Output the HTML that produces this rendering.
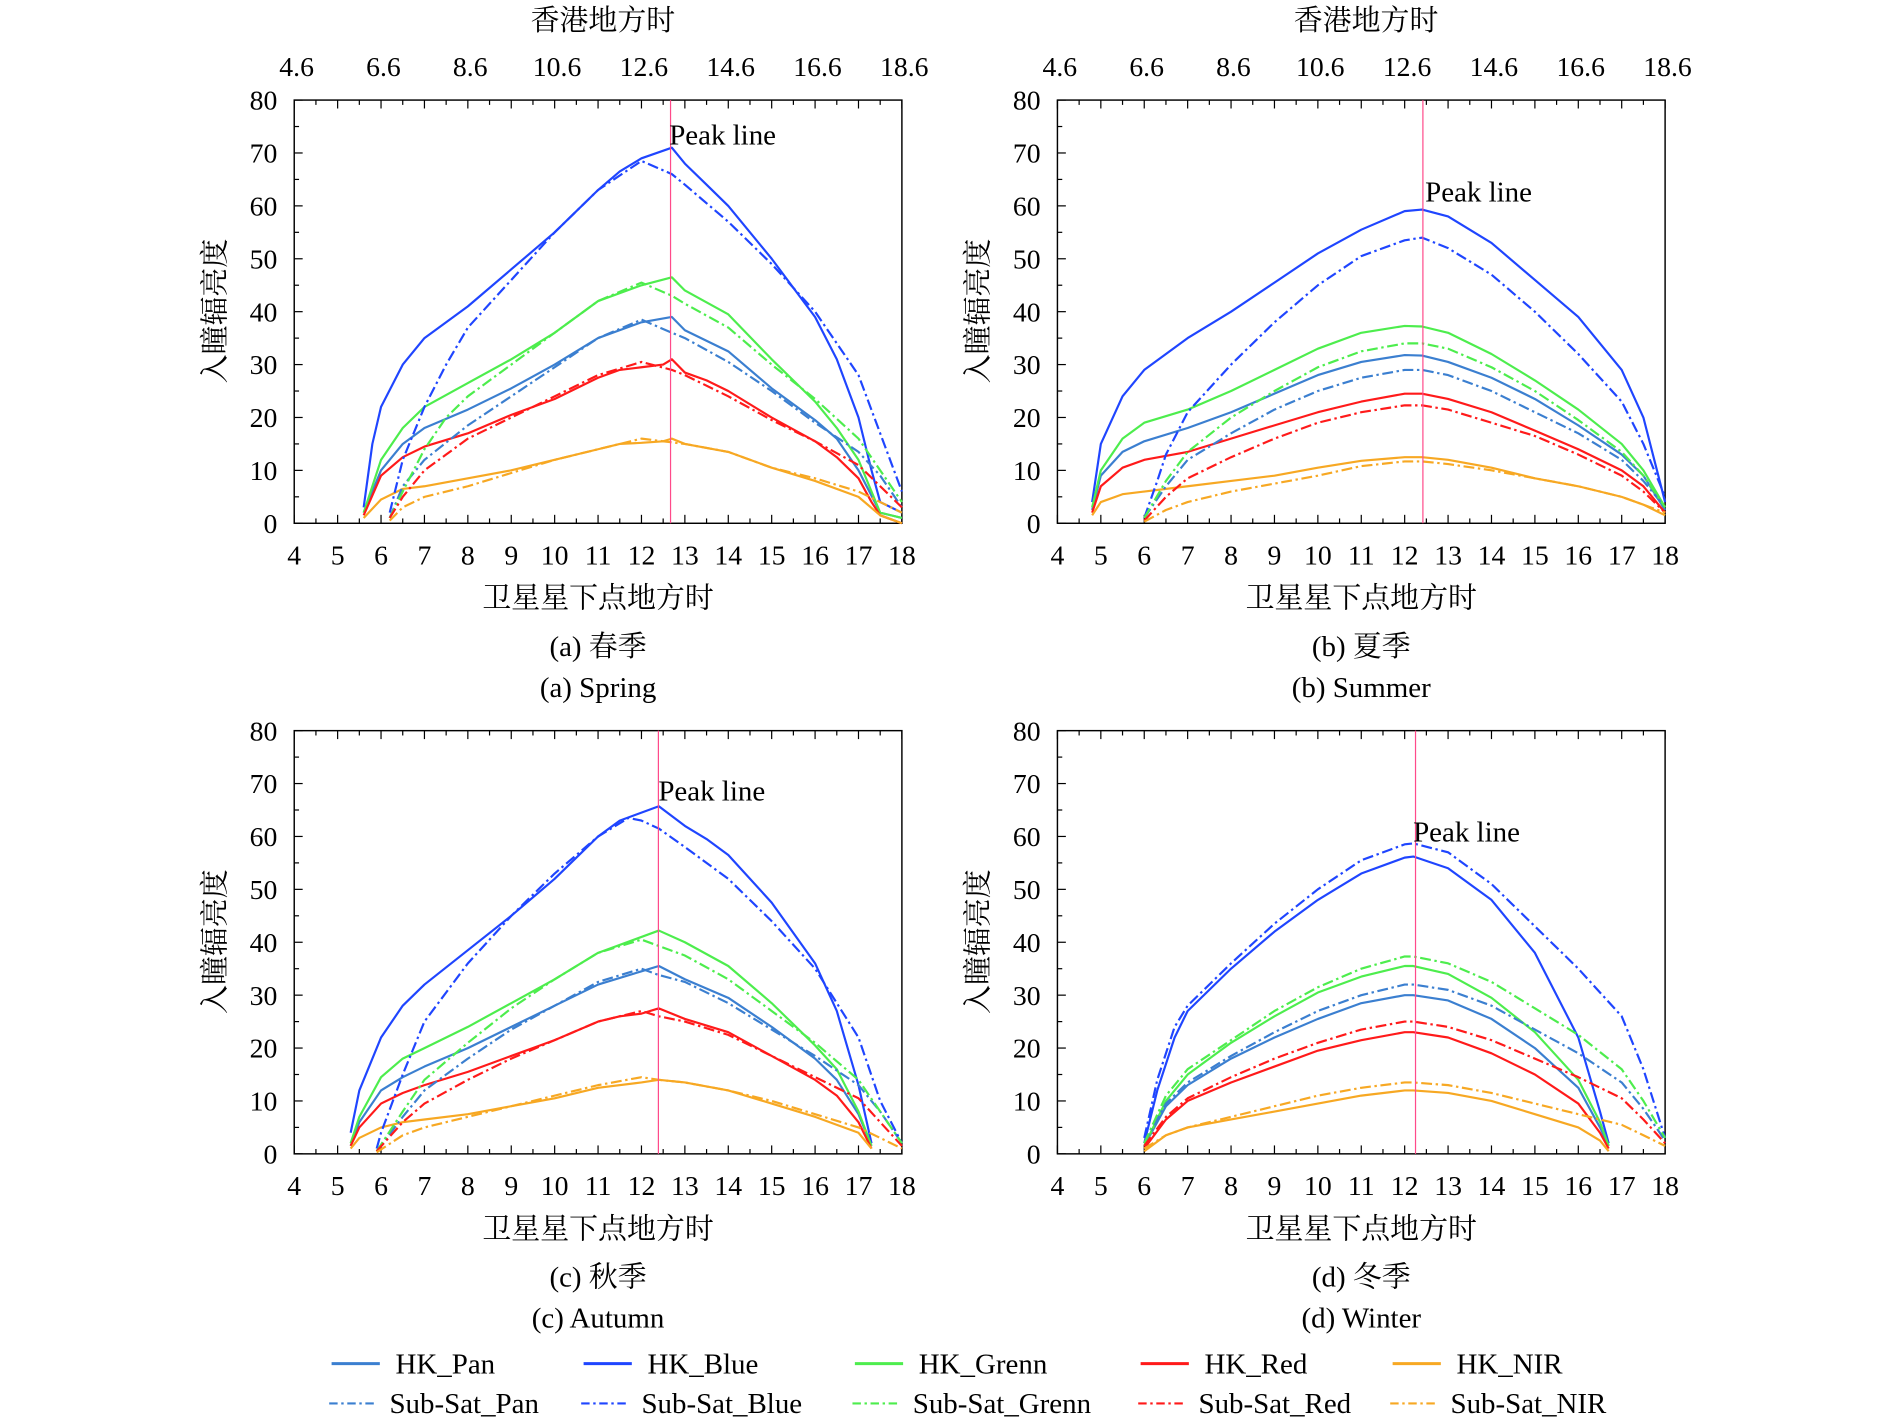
<!DOCTYPE html>
<html><head><meta charset="utf-8">
<style>
html,body{margin:0;padding:0;background:#fff;}
svg{display:block;}
text{font-family:"Liberation Serif","Noto Serif CJK SC",serif;fill:#000;}
</style></head>
<body>
<svg id="chart" width="1890" height="1422" viewBox="0 0 1567.5 1179.4" xmlns="http://www.w3.org/2000/svg"></svg>
<script>
// ===== data =====
const seriesNames = ["HK_Pan","HK_Blue","HK_Grenn","HK_Red","HK_NIR","Sub-Sat_Pan","Sub-Sat_Blue","Sub-Sat_Grenn","Sub-Sat_Red","Sub-Sat_NIR"];
const yTicks = [0,10,20,30,40,50,60,70,80];
const xTicks = [4,5,6,7,8,9,10,11,12,13,14,15,16,17,18];
const topTicks = ["4.6","6.6","8.6","10.6","12.6","14.6","16.6","18.6"];
const peakHours = [12.67, 12.42, 12.39, 12.25];

const spring_HK_Pan=[[5.6,2],[6,10],[6.5,15],[7,18],[8,21.5],[9,25.5],[10,30],[11,35],[12,38],[12.7,39],[13,36.5],[14,32.5],[15,25.5],[16,19.5],[16.5,16],[17,10],[17.5,2],[18,1]];
const spring_HK_Blue=[[5.6,3],[5.8,15],[6,22],[6.5,30],[7,35],[8,41],[9,48],[10,55],[11,63],[11.5,66.5],[12,69],[12.7,71],[13,68],[13.5,64],[14,60],[15,50],[16,39],[16.5,31],[17,20],[17.3,10],[17.5,4],[18,2]];
const spring_HK_Grenn=[[5.6,2],[6,12],[6.5,18],[7,22],[8,26.5],[9,31],[10,36],[11,42],[12,45],[12.7,46.5],[13,44],[14,39.5],[15,31],[16,23],[16.5,18],[17,12],[17.5,2],[18,1]];
const spring_HK_Red=[[5.6,1.5],[6,9],[6.5,12.5],[7,14.5],[8,17],[9,20.5],[10,23.5],[11,27.5],[11.5,29],[12,29.5],[12.5,30],[12.7,31],[13,28.5],[13.5,27],[14,25],[15,20],[16,15.5],[16.5,12.5],[17,8.5],[17.3,4],[17.5,1.5],[18,0]];
const spring_HK_NIR=[[5.6,1],[6,4.5],[6.5,6.5],[7,7],[8,8.5],[9,10],[10,12],[11,14],[11.5,15],[12,15.2],[12.5,15.5],[12.7,16],[13,15],[14,13.5],[15,10.5],[16,8],[17,5],[17.5,1.5],[18,0]];
const spring_Sub_Pan=[[6.2,1],[6.5,7],[7,12],[8,18.5],[9,24],[10,29.5],[11,35],[12,38.5],[12.7,36],[13,35],[14,30.5],[15,25],[16,19],[17,13.5],[17.5,9],[18,3]];
const spring_Sub_Blue=[[6.2,2],[6.5,12],[7,22],[7.5,30],[8,37],[9,46],[10,55],[11,63],[12,68.5],[12.7,66],[13,64],[14,57],[15,49],[16,40],[17,28],[17.5,17],[18,6]];
const spring_Sub_Grenn=[[6.2,1],[6.5,6],[7,14],[7.5,20],[8,24],[9,30],[10,36],[11,42],[12,45.5],[12.7,43],[13,41.5],[14,37],[15,30],[16,23.5],[17,16],[17.5,10],[18,4]];
const spring_Sub_Red=[[6.2,1],[6.5,5],[7,10],[7.5,13],[8,16],[9,20],[10,24],[11,28],[12,30.5],[12.7,29],[13,28],[14,24],[15,19.5],[16,15.5],[17,11],[17.5,7],[18,3]];
const spring_Sub_NIR=[[6.2,0.5],[6.5,3],[7,5],[8,7],[9,9.5],[10,12],[11,14],[12,16],[12.7,15.3],[13,15],[14,13.5],[15,10.5],[16,8.5],[17,6],[17.5,4],[18,2]];

const summer_HK_Pan=[[4.8,2.5],[5,9],[5.5,13.5],[6,15.5],[7,18],[8,21],[9,24.5],[10,28],[11,30.5],[12,31.8],[12.4,31.7],[13,30.5],[14,27.5],[15,23.5],[16,18.5],[17,13],[17.5,9],[18,2.5]];
const summer_HK_Blue=[[4.8,4],[5,15],[5.5,24],[6,29],[6.5,32],[7,35],[8,40],[9,45.5],[10,51],[11,55.5],[12,59],[12.4,59.3],[13,58],[14,53],[15,46],[16,39],[17,29],[17.5,20],[18,4]];
const summer_HK_Grenn=[[4.8,3],[5,10],[5.5,16],[6,19],[7,21.5],[8,25],[9,29],[10,33],[11,36],[12,37.3],[12.4,37.2],[13,36],[14,32],[15,27],[16,21.5],[17,15],[17.5,10],[18,3]];
const summer_HK_Red=[[4.8,2],[5,7],[5.5,10.5],[6,12],[7,13.5],[8,16],[9,18.5],[10,21],[11,23],[12,24.5],[12.4,24.5],[13,23.5],[14,21],[15,17.5],[16,14],[17,10],[17.5,7],[18,2]];
const summer_HK_NIR=[[4.8,1.5],[5,4],[5.5,5.5],[6,6],[7,7],[8,8],[9,9],[10,10.5],[11,11.8],[12,12.5],[12.4,12.5],[13,12],[14,10.5],[15,8.5],[16,7],[17,5],[17.5,3.5],[18,1.5]];
const summer_Sub_Pan=[[6,1],[6.5,7],[7,12],[8,17],[9,21.5],[10,25],[11,27.5],[12,29],[12.4,29],[13,28],[14,25],[15,21],[16,17],[17,12],[17.5,8],[18,3]];
const summer_Sub_Blue=[[6,1],[6.3,8],[6.5,13],[7,21],[8,30],[9,38],[10,45],[11,50.5],[12,53.5],[12.4,54],[13,52],[14,47],[15,40],[16,32],[17,23],[17.5,15],[18,5]];
const summer_Sub_Grenn=[[6,1],[6.5,8],[7,13.5],[8,20],[9,25],[10,29.5],[11,32.5],[12,34],[12.4,34],[13,33],[14,29.5],[15,25],[16,19.5],[17,13.5],[17.5,9],[18,3]];
const summer_Sub_Red=[[6,0.5],[6.5,5],[7,8.5],[8,12.5],[9,16],[10,19],[11,21],[12,22.3],[12.4,22.3],[13,21.5],[14,19],[15,16.5],[16,13],[17,9],[17.5,6],[18,2]];
const summer_Sub_NIR=[[6,0.3],[6.5,2.5],[7,4],[8,6],[9,7.5],[10,9],[11,10.8],[12,11.7],[12.4,11.7],[13,11.2],[14,10],[15,8.5],[16,7],[17,5],[17.5,3.5],[18,2]];

const autumn_HK_Pan=[[5.3,1.5],[5.5,6],[6,12],[6.5,14.5],[7,16.5],[8,20],[9,24],[10,28],[11,32],[12,34.5],[12.4,35.5],[13,33],[14,29.5],[15,24],[16,18],[16.5,14],[17,7.5],[17.3,1.5]];
const autumn_HK_Blue=[[5.3,4],[5.5,12],[6,22],[6.5,28],[7,32],[8,38.5],[9,45],[10,52],[11,60],[11.5,63],[12,64.5],[12.4,65.7],[13,62],[13.5,59.5],[14,56.5],[15,47.5],[16,36],[16.5,27],[17,13],[17.3,2]];
const autumn_HK_Grenn=[[5.3,2],[5.5,7],[6,14.5],[6.5,18],[7,20],[8,24],[9,28.5],[10,33],[11,38],[12,41],[12.4,42.2],[13,40],[14,35.5],[15,28.5],[16,20.5],[16.5,16],[17,8],[17.3,1.5]];
const autumn_HK_Red=[[5.3,1.5],[5.5,5],[6,9.5],[6.5,11.5],[7,13],[8,15.5],[9,18.5],[10,21.5],[11,25],[11.5,26],[12,26.5],[12.4,27.5],[13,25.5],[14,23],[15,18.5],[16,14],[16.5,11],[17,6],[17.3,1]];
const autumn_HK_NIR=[[5.3,1],[5.5,3],[6,5],[6.5,6],[7,6.5],[8,7.5],[9,9],[10,10.5],[11,12.5],[12,13.5],[12.4,14],[13,13.5],[14,12],[15,9.5],[16,7],[17,4],[17.3,1]];
const autumn_Sub_Pan=[[5.9,0.5],[6.5,7],[7,12],[8,18],[9,23.5],[10,28],[11,32.5],[12,35],[12.4,33.8],[13,32.5],[14,28.5],[15,23.5],[16,18.5],[17,13],[17.5,8],[18,2]];
const autumn_Sub_Blue=[[5.9,1],[6,4],[6.5,15],[7,25],[8,36],[9,45],[10,53],[11,60],[11.7,63.5],[12,63],[12.4,61.5],[13,58],[14,52],[15,44],[16,35],[17,22],[17.5,10],[18,2]];
const autumn_Sub_Grenn=[[5.9,0.5],[6.5,8],[7,14],[8,21],[9,27.5],[10,33],[11,38],[12,40.5],[12.4,39.3],[13,37.5],[14,33],[15,27],[16,21],[17,14],[17.5,8],[18,2]];
const autumn_Sub_Red=[[5.9,0.5],[6.5,6],[7,9.5],[8,14],[9,18],[10,21.5],[11,25],[12,27],[12.4,26],[13,25],[14,22.5],[15,18.5],[16,14.5],[17,10.5],[17.5,6],[18,1.5]];
const autumn_Sub_NIR=[[5.9,0.3],[6.5,3.5],[7,5],[8,7],[9,9],[10,11],[11,13],[12,14.5],[12.4,14],[13,13.5],[14,12],[15,10],[16,7.5],[17,5],[17.5,3],[18,1]];

const winter_HK_Pan=[[6,1.5],[6.5,9],[7,13],[8,18],[9,22],[10,25.5],[11,28.5],[12,30],[12.2,30],[13,29],[14,25.5],[15,20],[16,12.5],[16.5,5],[16.7,1.5]];
const winter_HK_Blue=[[6,2],[6.3,12],[6.7,22],[7,27],[8,35],[9,42],[10,48],[11,53],[12,56],[12.2,56.2],[13,54],[14,48],[15,38],[16,22],[16.5,8],[16.7,2]];
const winter_HK_Grenn=[[6,1.5],[6.5,10],[7,15],[8,21],[9,26],[10,30.5],[11,33.5],[12,35.5],[12.2,35.5],[13,34],[14,29.5],[15,23],[16,14],[16.5,6],[16.7,1.5]];
const winter_HK_Red=[[6,1],[6.5,6.5],[7,10],[8,13.5],[9,16.5],[10,19.5],[11,21.5],[12,23],[12.2,23],[13,22],[14,19],[15,15],[16,9.5],[16.5,4],[16.7,1]];
const winter_HK_NIR=[[6,0.5],[6.5,3.5],[7,5],[8,6.5],[9,8],[10,9.5],[11,11],[12,12],[12.2,12],[13,11.5],[14,10],[15,7.5],[16,5],[16.5,2.5],[16.7,0.5]];
const winter_Sub_Pan=[[6,2],[6.5,9.5],[7,13.5],[8,18.5],[9,23],[10,27],[11,30],[12,32],[12.2,32],[13,31],[14,28],[15,23.5],[16,19],[17,13.5],[17.5,8.5],[18,2.5]];
const winter_Sub_Blue=[[6,3],[6.3,14],[6.7,24],[7,28],[8,36],[9,43.5],[10,50],[11,55.5],[12,58.5],[12.2,58.7],[13,57],[14,51],[15,43],[16,35],[17,26],[17.5,16],[18,3]];
const winter_Sub_Grenn=[[6,2],[6.5,11],[7,16],[8,21.5],[9,27],[10,31.5],[11,35],[12,37.3],[12.2,37.3],[13,36],[14,32.5],[15,27.5],[16,22.5],[17,16],[17.5,10],[18,3]];
const winter_Sub_Red=[[6,1.5],[6.5,7],[7,10.5],[8,14.5],[9,18],[10,21],[11,23.5],[12,25],[12.2,25],[13,24],[14,21.5],[15,18],[16,14.5],[17,10.5],[17.5,6.5],[18,2]];
const winter_Sub_NIR=[[6,1],[6.5,3.5],[7,5],[8,7],[9,9],[10,11],[11,12.5],[12,13.5],[12.2,13.5],[13,13],[14,11.5],[15,9.5],[16,7.5],[17,5.5],[17.5,3.5],[18,1.5]];

const springSeries=[spring_HK_Pan,spring_HK_Blue,spring_HK_Grenn,spring_HK_Red,spring_HK_NIR,spring_Sub_Pan,spring_Sub_Blue,spring_Sub_Grenn,spring_Sub_Red,spring_Sub_NIR];
const summerSeries=[summer_HK_Pan,summer_HK_Blue,summer_HK_Grenn,summer_HK_Red,summer_HK_NIR,summer_Sub_Pan,summer_Sub_Blue,summer_Sub_Grenn,summer_Sub_Red,summer_Sub_NIR];
const autumnSeries=[autumn_HK_Pan,autumn_HK_Blue,autumn_HK_Grenn,autumn_HK_Red,autumn_HK_NIR,autumn_Sub_Pan,autumn_Sub_Blue,autumn_Sub_Grenn,autumn_Sub_Red,autumn_Sub_NIR];
const winterSeries=[winter_HK_Pan,winter_HK_Blue,winter_HK_Grenn,winter_HK_Red,winter_HK_NIR,winter_Sub_Pan,winter_Sub_Blue,winter_Sub_Grenn,winter_Sub_Red,winter_Sub_NIR];

// ===== drawing =====
const colors=["#3b7fd0","#1f45ff","#4ded4d","#ff1a1a","#f7a823"];
const NS="http://www.w3.org/2000/svg";
const svg=document.getElementById('chart');
function mk(tag,attrs,parent,txt){const e=document.createElementNS(NS,tag);for(const k in attrs)e.setAttribute(k,attrs[k]);if(txt!==undefined)e.textContent=txt;(parent||svg).appendChild(e);return e;}

const panels=[
 {id:"spring",x0:244,y0:83,data:springSeries,peak:peakHours[0],peakLbl:[555,120],top:true,cap1:"(a) 春季",cap2:"(a) Spring"},
 {id:"summer",x0:877,y0:83,data:summerSeries,peak:peakHours[1],peakLbl:[1182,167],top:true,cap1:"(b) 夏季",cap2:"(b) Summer"},
 {id:"autumn",x0:244,y0:606,data:autumnSeries,peak:peakHours[2],peakLbl:[546,664],top:false,cap1:"(c) 秋季",cap2:"(c) Autumn"},
 {id:"winter",x0:877,y0:606,data:winterSeries,peak:peakHours[3],peakLbl:[1172,698],top:false,cap1:"(d) 冬季",cap2:"(d) Winter"}
];
const W=504,H=351;
panels.forEach(p=>{
  const g=mk('g',{});
  
  
  const sx=v=>p.x0+(v-4)/14*W;
  const sy=v=>p.y0+H-v/80*H;
  const box=mk('rect',{x:p.x0,y:p.y0,width:W,height:H,fill:'none',stroke:'#000','stroke-width':1.2},g);
  
  
  for(let h=4;h<=18;h+=0.5){const L=(h%1===0)?7:4;
    mk('line',{x1:sx(h),x2:sx(h),y1:p.y0+H,y2:p.y0+H-L,stroke:'#000','stroke-width':1},g);
    mk('line',{x1:sx(h),x2:sx(h),y1:p.y0,y2:p.y0+L,stroke:'#000','stroke-width':1},g);}
  for(let v=0;v<=80;v+=5){const L=(v%10===0)?7:4;
    mk('line',{x1:p.x0,x2:p.x0+L,y1:sy(v),y2:sy(v),stroke:'#000','stroke-width':1},g);}
  yTicks.forEach(v=>{const t=mk('text',{x:p.x0-14,y:sy(v)+8,'text-anchor':'end','font-size':23},g,String(v));
    });
  xTicks.forEach(v=>{const t=mk('text',{x:sx(v),y:p.y0+H+34,'text-anchor':'middle','font-size':23},g,String(v));
    });
  if(p.top){
    topTicks.forEach((s,i)=>{const t=mk('text',{x:sx(4+i*2)+2,y:p.y0-20,'text-anchor':'middle','font-size':23},g,s);
      });
    const tt=mk('text',{x:p.x0+256,y:p.y0-58,'text-anchor':'middle','font-size':24},g,'香港地方时');
    
  }
  const yt=mk('text',{x:0,y:0,'text-anchor':'middle','font-size':24,transform:`translate(${p.x0-58},${p.y0+175}) rotate(-90)`},g,'入瞳辐亮度');
  
  const xt=mk('text',{x:p.x0+252,y:p.y0+H+70,'text-anchor':'middle','font-size':24},g,'卫星星下点地方时');
  
  const c1=mk('text',{x:p.x0+252,y:p.y0+H+110,'text-anchor':'middle','font-size':24},g,p.cap1);
  
  const c2=mk('text',{x:p.x0+252,y:p.y0+H+144,'text-anchor':'middle','font-size':24},g,p.cap2);
  
  p.data.forEach((s,i)=>{
    const d=s.map((pt,j)=>(j?'L':'M')+sx(pt[0]).toFixed(1)+','+sy(pt[1]).toFixed(1)).join(' ');
    const path=mk('path',{d:d,fill:'none',stroke:colors[i%5],'stroke-width':1.8,'stroke-linejoin':'round','stroke-dasharray':i>=5?'9,3,2,3':'none'},g);
    
    
  });
  const pl=mk('line',{x1:sx(p.peak),x2:sx(p.peak),y1:p.y0,y2:p.y0+H,stroke:'#ff4a8a','stroke-width':1},g);
  
  const plt=mk('text',{x:p.peakLbl[0],y:p.peakLbl[1],'font-size':24},g,'Peak line');
  
});
const lg=mk('g',{});


const legX=[275,484,709,946,1155];
seriesNames.forEach((n,i)=>{
  const row=i<5?0:1, col=i%5;
  const y=row?1164:1131;
  const e=mk('g',{},lg);
  
  
  const x=legX[col]-(row?2:0);
  mk('line',{x1:x,x2:x+(row?37:40),y1:y,y2:y,stroke:colors[col],'stroke-width':row?1.8:2.5,'stroke-dasharray':row?'7,3,2,3':'none'},e);
  mk('text',{x:x+(row?50:53),y:y+8,'font-size':24},e,n);
});
</script>
</body></html>
